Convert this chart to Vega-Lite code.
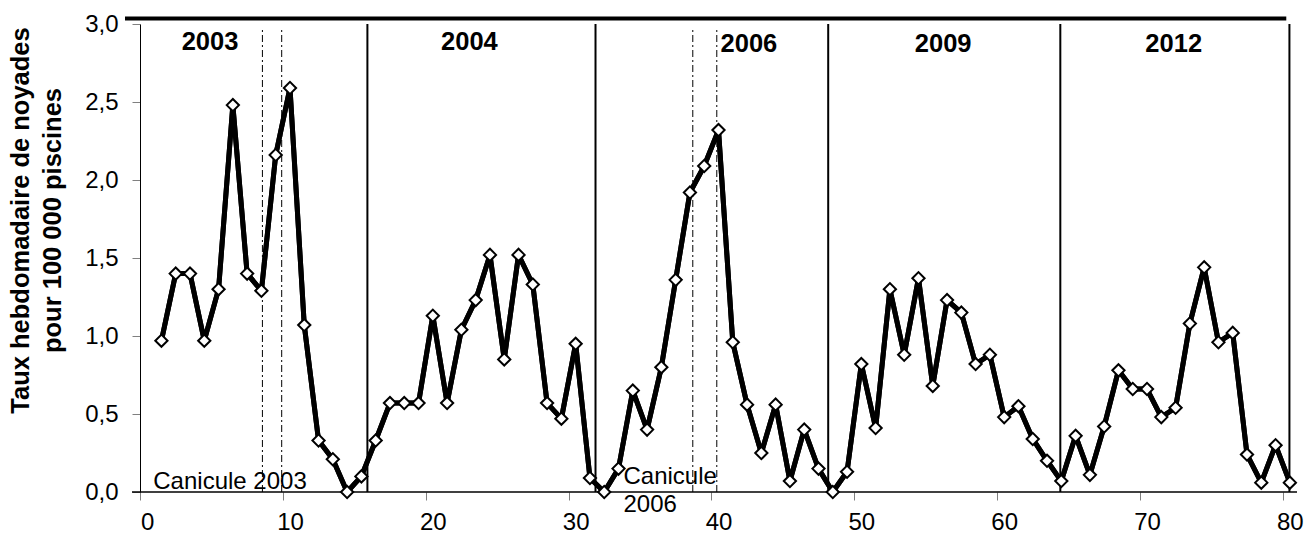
{
  "$schema": "https://vega.github.io/schema/vega-lite/v6.json",
  "width": 1157,
  "height": 468,
  "autosize": {"type": "none"},
  "padding": {"left": 140, "top": 24, "right": 8, "bottom": 41},
  "background": "white",
  "config": {"view": {"stroke": null}, "font": "Liberation Sans"},
  "datasets": {
    "taux": [
      {"semaine": 1, "taux": 0.97}, {"semaine": 2, "taux": 1.40}, {"semaine": 3, "taux": 1.40}, {"semaine": 4, "taux": 0.97},
      {"semaine": 5, "taux": 1.30}, {"semaine": 6, "taux": 2.48}, {"semaine": 7, "taux": 1.40}, {"semaine": 8, "taux": 1.29},
      {"semaine": 9, "taux": 2.16}, {"semaine": 10, "taux": 2.59}, {"semaine": 11, "taux": 1.07}, {"semaine": 12, "taux": 0.33},
      {"semaine": 13, "taux": 0.21}, {"semaine": 14, "taux": 0.00}, {"semaine": 15, "taux": 0.10},
      {"semaine": 16, "taux": 0.33}, {"semaine": 17, "taux": 0.57}, {"semaine": 18, "taux": 0.57}, {"semaine": 19, "taux": 0.57},
      {"semaine": 20, "taux": 1.13}, {"semaine": 21, "taux": 0.57}, {"semaine": 22, "taux": 1.04}, {"semaine": 23, "taux": 1.23},
      {"semaine": 24, "taux": 1.52}, {"semaine": 25, "taux": 0.85}, {"semaine": 26, "taux": 1.52}, {"semaine": 27, "taux": 1.33},
      {"semaine": 28, "taux": 0.57}, {"semaine": 29, "taux": 0.47}, {"semaine": 30, "taux": 0.95}, {"semaine": 31, "taux": 0.09},
      {"semaine": 32, "taux": 0.00}, {"semaine": 33, "taux": 0.15}, {"semaine": 34, "taux": 0.65}, {"semaine": 35, "taux": 0.40},
      {"semaine": 36, "taux": 0.80}, {"semaine": 37, "taux": 1.36}, {"semaine": 38, "taux": 1.92}, {"semaine": 39, "taux": 2.09},
      {"semaine": 40, "taux": 2.32}, {"semaine": 41, "taux": 0.96}, {"semaine": 42, "taux": 0.56}, {"semaine": 43, "taux": 0.25},
      {"semaine": 44, "taux": 0.56}, {"semaine": 45, "taux": 0.07}, {"semaine": 46, "taux": 0.40}, {"semaine": 47, "taux": 0.15},
      {"semaine": 48, "taux": 0.00}, {"semaine": 49, "taux": 0.13}, {"semaine": 50, "taux": 0.82}, {"semaine": 51, "taux": 0.41},
      {"semaine": 52, "taux": 1.30}, {"semaine": 53, "taux": 0.88}, {"semaine": 54, "taux": 1.37}, {"semaine": 55, "taux": 0.68},
      {"semaine": 56, "taux": 1.23}, {"semaine": 57, "taux": 1.15}, {"semaine": 58, "taux": 0.82}, {"semaine": 59, "taux": 0.88},
      {"semaine": 60, "taux": 0.48}, {"semaine": 61, "taux": 0.55}, {"semaine": 62, "taux": 0.34}, {"semaine": 63, "taux": 0.20},
      {"semaine": 64, "taux": 0.07}, {"semaine": 65, "taux": 0.36}, {"semaine": 66, "taux": 0.11}, {"semaine": 67, "taux": 0.42},
      {"semaine": 68, "taux": 0.78}, {"semaine": 69, "taux": 0.66}, {"semaine": 70, "taux": 0.66}, {"semaine": 71, "taux": 0.48},
      {"semaine": 72, "taux": 0.54}, {"semaine": 73, "taux": 1.08}, {"semaine": 74, "taux": 1.44}, {"semaine": 75, "taux": 0.96},
      {"semaine": 76, "taux": 1.02}, {"semaine": 77, "taux": 0.24}, {"semaine": 78, "taux": 0.06}, {"semaine": 79, "taux": 0.30},
      {"semaine": 80, "taux": 0.06}
    ],
    "separations": [
      {"semaine": 15.42}, {"semaine": 31.39}, {"semaine": 47.68}, {"semaine": 63.93}, {"semaine": 79.97}
    ],
    "canicules": [
      {"semaine": 8.07, "episode": "Canicule 2003"}, {"semaine": 9.42, "episode": "Canicule 2003"},
      {"semaine": 38.2, "episode": "Canicule 2006"}, {"semaine": 39.88, "episode": "Canicule 2006"}
    ]
  },
  "layer": [
    {
      "data": {"name": "taux"},
      "mark": {"type": "line", "color": "black", "strokeWidth": 5, "strokeJoin": "round"},
      "encoding": {
        "x": {
          "field": "semaine", "type": "quantitative",
          "scale": {"domain": [-0.5, 80.5], "nice": false, "zero": false},
          "axis": {
            "values": [-0.5, 9.5, 19.5, 29.5, 39.5, 49.5, 59.5, 69.5, 79.5],
            "labelExpr": "format(datum.value + 0.5, 'd')",
            "labelOffset": 7.14, "labelFlush": false, "labelOverlap": false,
            "title": null, "domain": false, "grid": false,
            "tickColor": "#808080", "tickSize": 8, "tickWidth": 1,
            "labelFontSize": 24, "labelColor": "black", "labelPadding": 10, "labelFont": "Liberation Sans"
          }
        },
        "y": {
          "field": "taux", "type": "quantitative",
          "scale": {"domain": [0, 3], "nice": false, "zero": false},
          "axis": {
            "values": [0, 0.5, 1, 1.5, 2, 2.5, 3],
            "format": ".1f",
            "labelExpr": "replace(datum.label, '.', ',')",
            "title": ["Taux hebdomadaire de noyades", "pour 100 000 piscines"],
            "titleFontSize": 25.5, "titleFontWeight": "bold", "titleFont": "Liberation Sans", "titleColor": "black",
            "titleLineHeight": 32, "titleX": -107, "titleY": 196, "titleAngle": -90, "titleBaseline": "bottom", "titleAlign": "center",
            "domain": true, "domainColor": "black", "domainWidth": 1, "grid": false,
            "tickColor": "#808080", "tickSize": 8, "tickWidth": 1,
            "labelFontSize": 24, "labelColor": "black", "labelPadding": 14, "labelFont": "Liberation Sans"
          }
        }
      }
    },
    {
      "data": {"name": "separations"},
      "mark": {"type": "rule", "color": "black", "strokeWidth": 2},
      "encoding": {
        "x": {"field": "semaine", "type": "quantitative", "scale": {"domain": [-0.5, 80.5], "nice": false, "zero": false}},
        "y": {"datum": 0, "type": "quantitative", "scale": {"domain": [0, 3], "nice": false, "zero": false}},
        "y2": {"datum": 3}
      }
    },
    {
      "data": {"name": "canicules"},
      "mark": {"type": "rule", "color": "black", "strokeWidth": 1, "strokeDash": [7, 3, 2, 3]},
      "encoding": {
        "x": {"field": "semaine", "type": "quantitative", "scale": {"domain": [-0.5, 80.5], "nice": false, "zero": false}},
        "y": {"datum": 0, "type": "quantitative", "scale": {"domain": [0, 3], "nice": false, "zero": false}},
        "y2": {"datum": 2.98}
      }
    },
    {
      "data": {"values": [{}]},
      "mark": {"type": "rule", "color": "black", "strokeWidth": 4},
      "encoding": {
        "x": {"datum": -1.55, "type": "quantitative", "scale": {"domain": [-0.5, 80.5], "nice": false, "zero": false}},
        "x2": {"datum": 79.75},
        "y": {"datum": 3.035, "type": "quantitative", "scale": {"domain": [0, 3], "nice": false, "zero": false}}
      }
    },
    {
      "data": {"values": [{}]},
      "mark": {"type": "rule", "color": "black", "strokeWidth": 1.5},
      "encoding": {
        "x": {"datum": -1.06, "type": "quantitative", "scale": {"domain": [-0.5, 80.5], "nice": false, "zero": false}},
        "x2": {"datum": 80.5},
        "y": {"datum": 0, "type": "quantitative", "scale": {"domain": [0, 3], "nice": false, "zero": false}}
      }
    },
    {
      "data": {"name": "taux"},
      "mark": {"type": "line", "color": "black", "strokeWidth": 5, "strokeJoin": "round"},
      "encoding": {
        "x": {"field": "semaine", "type": "quantitative", "scale": {"domain": [-0.5, 80.5], "nice": false, "zero": false}},
        "y": {"field": "taux", "type": "quantitative", "scale": {"domain": [0, 3], "nice": false, "zero": false}}
      }
    },
    {
      "data": {"name": "taux"},
      "mark": {"type": "point", "shape": "diamond", "filled": true, "fill": "white", "stroke": "black", "strokeWidth": 2, "size": 150, "opacity": 1},
      "encoding": {
        "x": {"field": "semaine", "type": "quantitative", "scale": {"domain": [-0.5, 80.5], "nice": false, "zero": false}},
        "y": {"field": "taux", "type": "quantitative", "scale": {"domain": [0, 3], "nice": false, "zero": false}}
      }
    },
    {
      "data": {"values": [{}]},
      "mark": {"type": "text", "font": "Liberation Sans", "fontSize": 25.5, "fontWeight": "bold", "align": "center", "baseline": "middle", "color": "black"},
      "encoding": {
        "x": {"datum": 4.4, "type": "quantitative", "scale": {"domain": [-0.5, 80.5], "nice": false, "zero": false}},
        "y": {"datum": 2.885, "type": "quantitative", "scale": {"domain": [0, 3], "nice": false, "zero": false}},
        "text": {"value": "2003"}
      }
    },
    {
      "data": {"values": [{}]},
      "mark": {"type": "text", "font": "Liberation Sans", "fontSize": 25.5, "fontWeight": "bold", "align": "center", "baseline": "middle", "color": "black"},
      "encoding": {
        "x": {"datum": 22.56, "type": "quantitative", "scale": {"domain": [-0.5, 80.5], "nice": false, "zero": false}},
        "y": {"datum": 2.885, "type": "quantitative", "scale": {"domain": [0, 3], "nice": false, "zero": false}},
        "text": {"value": "2004"}
      }
    },
    {
      "data": {"values": [{}]},
      "mark": {"type": "text", "font": "Liberation Sans", "fontSize": 25.5, "fontWeight": "bold", "align": "center", "baseline": "middle", "color": "black"},
      "encoding": {
        "x": {"datum": 42.13, "type": "quantitative", "scale": {"domain": [-0.5, 80.5], "nice": false, "zero": false}},
        "y": {"datum": 2.872, "type": "quantitative", "scale": {"domain": [0, 3], "nice": false, "zero": false}},
        "text": {"value": "2006"}
      }
    },
    {
      "data": {"values": [{}]},
      "mark": {"type": "text", "font": "Liberation Sans", "fontSize": 25.5, "fontWeight": "bold", "align": "center", "baseline": "middle", "color": "black"},
      "encoding": {
        "x": {"datum": 55.73, "type": "quantitative", "scale": {"domain": [-0.5, 80.5], "nice": false, "zero": false}},
        "y": {"datum": 2.872, "type": "quantitative", "scale": {"domain": [0, 3], "nice": false, "zero": false}},
        "text": {"value": "2009"}
      }
    },
    {
      "data": {"values": [{}]},
      "mark": {"type": "text", "font": "Liberation Sans", "fontSize": 25.5, "fontWeight": "bold", "align": "center", "baseline": "middle", "color": "black"},
      "encoding": {
        "x": {"datum": 71.87, "type": "quantitative", "scale": {"domain": [-0.5, 80.5], "nice": false, "zero": false}},
        "y": {"datum": 2.872, "type": "quantitative", "scale": {"domain": [0, 3], "nice": false, "zero": false}},
        "text": {"value": "2012"}
      }
    },
    {
      "data": {"values": [{}]},
      "mark": {"type": "text", "font": "Liberation Sans", "fontSize": 24, "align": "left", "baseline": "alphabetic", "color": "black"},
      "encoding": {
        "x": {"datum": 0.43, "type": "quantitative", "scale": {"domain": [-0.5, 80.5], "nice": false, "zero": false}},
        "y": {"datum": 0.017, "type": "quantitative", "scale": {"domain": [0, 3], "nice": false, "zero": false}},
        "text": {"value": "Canicule 2003"}
      }
    },
    {
      "data": {"values": [{}]},
      "mark": {"type": "text", "font": "Liberation Sans", "fontSize": 24, "align": "left", "baseline": "alphabetic", "color": "black"},
      "encoding": {
        "x": {"datum": 33.35, "type": "quantitative", "scale": {"domain": [-0.5, 80.5], "nice": false, "zero": false}},
        "y": {"datum": 0.049, "type": "quantitative", "scale": {"domain": [0, 3], "nice": false, "zero": false}},
        "text": {"value": "Canicule"}
      }
    },
    {
      "data": {"values": [{}]},
      "mark": {"type": "text", "font": "Liberation Sans", "fontSize": 24, "align": "left", "baseline": "alphabetic", "color": "black"},
      "encoding": {
        "x": {"datum": 33.35, "type": "quantitative", "scale": {"domain": [-0.5, 80.5], "nice": false, "zero": false}},
        "y": {"datum": -0.13, "type": "quantitative", "scale": {"domain": [0, 3], "nice": false, "zero": false}},
        "text": {"value": "2006"}
      }
    }
  ]
}
